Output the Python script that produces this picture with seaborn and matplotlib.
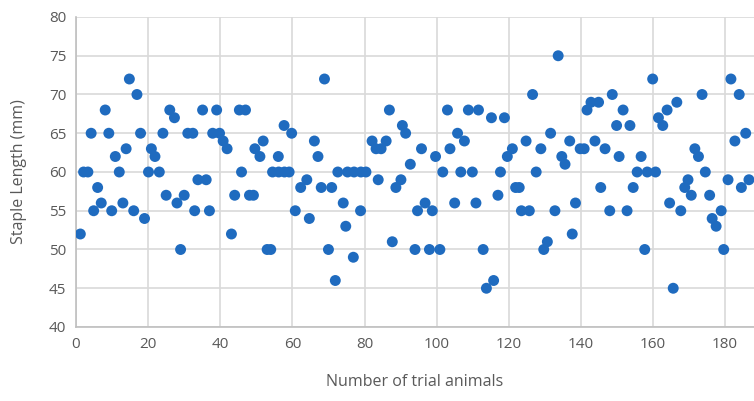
import matplotlib
matplotlib.use("Agg")
import matplotlib.pyplot as plt
import seaborn as sns
import pandas as pd

# Animal index (x) and staple length in mm (y)
animal = [
    1.2, 2.1, 3.3, 4.2, 4.9, 6.0, 7.0, 8.1, 9.1, 9.9,
    10.9, 12.0, 13.0, 13.9, 14.8, 16.0, 16.9, 17.9, 19.0, 20.1,
    20.9, 21.9, 23.1, 24.1, 25.0, 26.0, 27.3, 28.0, 29.0, 30.0,
    31.0, 32.4, 32.9, 33.8, 35.1, 36.1, 37.0, 37.9, 39.0, 39.8,
    40.8, 41.9, 43.1, 44.0, 45.3, 45.9, 47.0, 48.1, 49.2, 49.6,
    51.0, 51.9, 53.0, 54.0, 54.5, 56.2, 57.8, 59.1, 56.1, 57.7,
    59.8, 60.8, 62.3, 64.0, 64.7, 66.1, 67.1, 68.0, 68.9, 70.0,
    70.9, 71.9, 72.6, 74.1, 74.8, 75.3, 77.1, 79.0, 80.4, 76.9,
    78.9, 82.1, 83.2, 84.6, 86.0, 83.8, 86.9, 87.7, 88.7, 90.1,
    90.5, 91.4, 92.7, 94.0, 94.7, 95.8, 96.8, 98.0, 98.8, 99.7,
    100.9, 101.7, 103.0, 103.7, 105.0, 105.8, 106.7, 107.7, 108.8, 111.6,
    109.9, 110.9, 112.9, 113.8, 115.8, 115.2, 117.0, 117.7, 118.8, 119.6,
    121.0, 121.9, 122.9, 123.5, 125.7, 124.8, 126.6, 127.6, 128.9, 129.7,
    130.7, 131.6, 132.8, 133.7, 134.7, 135.6, 136.9, 137.6, 138.5, 139.8,
    140.9, 141.7, 142.8, 144.9, 143.9, 145.5, 146.7, 148.0, 148.7, 149.9,
    153.6, 150.6, 151.7, 152.8, 154.5, 155.6, 156.7, 157.7, 158.4, 160.7,
    159.9, 161.5, 162.7, 163.9, 164.6, 165.6, 166.6, 167.7, 168.8, 169.7,
    170.6, 171.6, 172.6, 173.6, 174.5, 175.7, 176.4, 177.5, 178.9, 179.6,
    180.8, 181.6, 182.7, 183.9, 184.5, 185.7, 186.6,
]
staple_length = [
    52, 60, 60, 65, 55, 58, 56, 68, 65, 55,
    62, 60, 56, 63, 72, 55, 70, 65, 54, 60,
    63, 62, 60, 65, 57, 68, 67, 56, 50, 57,
    65, 65, 55, 59, 68, 59, 55, 65, 68, 65,
    64, 63, 52, 57, 68, 60, 68, 57, 57, 63,
    62, 64, 50, 50, 60, 60, 60, 60, 62, 66,
    65, 55, 58, 59, 54, 64, 62, 58, 72, 50,
    58, 46, 60, 56, 53, 60, 60, 60, 60, 49,
    55, 64, 63, 63, 64, 59, 68, 51, 58, 59,
    66, 65, 61, 50, 55, 63, 56, 50, 55, 62,
    50, 60, 68, 63, 56, 65, 60, 64, 68, 68,
    60, 56, 50, 45, 46, 67, 57, 60, 67, 62,
    63, 58, 58, 55, 55, 64, 70, 60, 63, 50,
    51, 65, 55, 75, 62, 61, 64, 52, 56, 63,
    63, 68, 69, 69, 64, 58, 63, 55, 70, 66,
    66, 62, 68, 55, 58, 60, 62, 50, 60, 60,
    72, 67, 66, 68, 56, 45, 69, 55, 58, 59,
    57, 63, 62, 70, 60, 57, 54, 53, 55, 50,
    59, 72, 64, 70, 58, 65, 59,
]
x_ticks = [0, 20, 40, 60, 80, 100, 120, 140, 160, 180]
y_ticks = [40, 45, 50, 55, 60, 65, 70, 75, 80]

df = pd.DataFrame({"animal": animal, "length": staple_length})

sns.set_theme(style="whitegrid")
plt.rcParams["font.family"] = ["Open Sans", "DejaVu Sans"]

W, H = 754, 401
fig = plt.figure(figsize=(W / 100, H / 100), dpi=100)
ax = fig.add_axes([76 / W, (H - 327) / H, (W - 76) / W, (327 - 17) / H])

sns.scatterplot(data=df, x="animal", y="length", ax=ax, color="#1F6BBF",
                s=62, edgecolor="none", linewidth=0, zorder=3)

grid_c = "#D9D9D9"
ax.set_xlim(0, 188)
ax.set_ylim(40, 80)
ax.set_xticks(x_ticks)
ax.set_yticks(y_ticks)
ax.grid(True, color=grid_c, linewidth=1.2)
for side in ["top", "right"]:
    ax.spines[side].set_visible(False)
for side in ["left", "bottom"]:
    ax.spines[side].set_color("#BFBFBF")
    ax.spines[side].set_linewidth(1.2)
ax.tick_params(axis="both", length=4, width=1.2, color="#BFBFBF",
               labelsize=11, labelcolor="#595959", pad=3)
ax.set_xlabel("Number of trial animals", fontsize=11.5, color="#595959", labelpad=16)
ax.set_ylabel("Staple Length (mm)", fontsize=11.5, color="#595959", labelpad=16)
ax.set_facecolor("white")
fig.patch.set_facecolor("white")

fig.savefig("out.png", dpi=100)
